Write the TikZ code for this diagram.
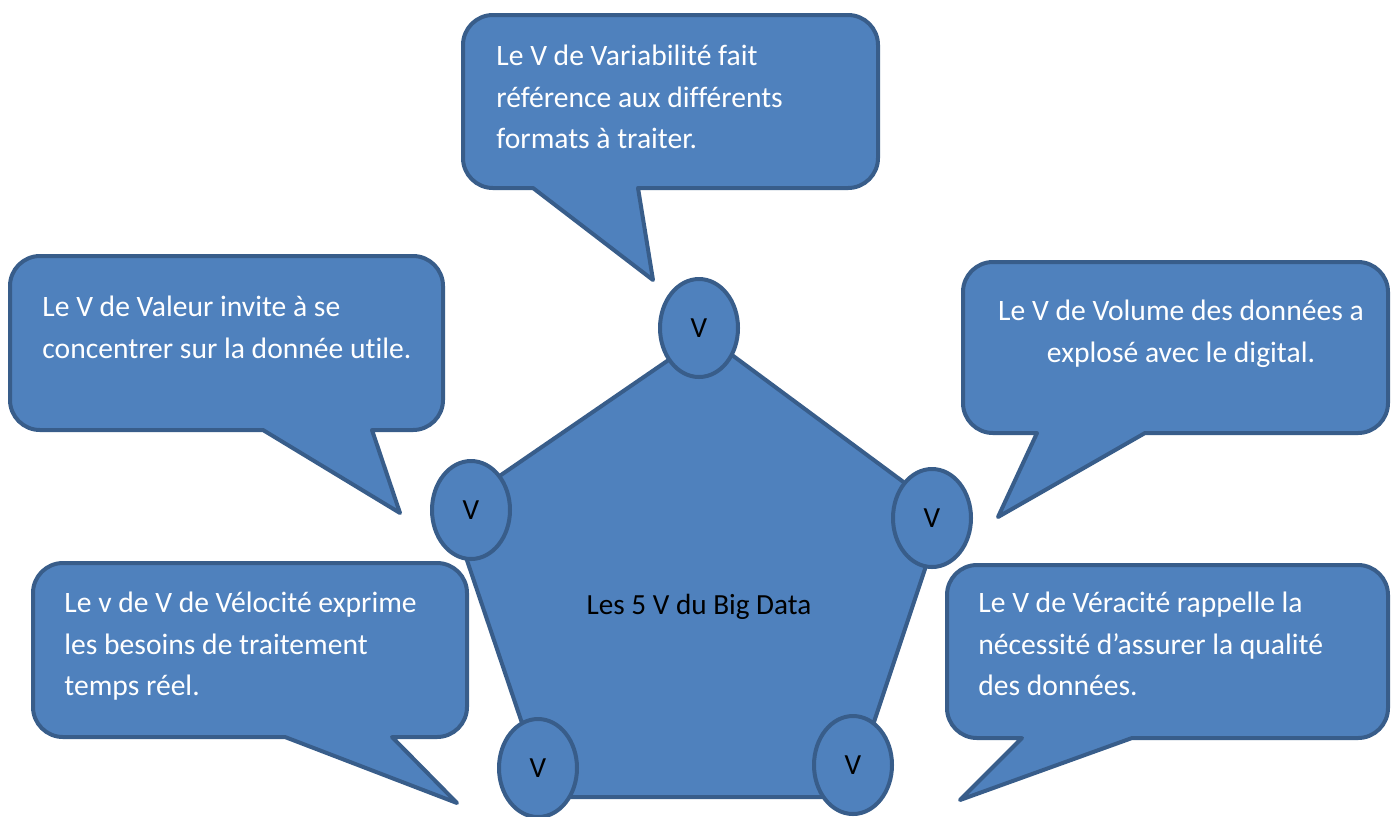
\documentclass[tikz,border=0pt]{standalone}
\usepackage{fontspec}
\usepackage{tikz}
\usetikzlibrary{shapes.geometric}
\setmainfont{Carlito}[Ligatures=NoCommon]
\definecolor{bdfill}{HTML}{4F81BD}
\definecolor{bdline}{HTML}{385D8A}
\tikzset{
  bulle/.style={fill=bdfill,draw=bdline,line width=2pt,rounded corners=15pt,line join=round},
  bulletext/.style={text=white,font=\fontsize{14.8}{20.75}\selectfont,inner sep=0pt},
  vbulle/.style={ellipse,fill=bdfill,draw=bdline,line width=2pt,minimum width=39pt,minimum height=49pt,inner sep=0pt,font=\fontsize{14.6}{16}\selectfont},
}

\begin{document}
\begin{tikzpicture}[x=0.5pt,y=-0.5pt]
\useasboundingbox (0,0) rectangle (1392,816);

% les bulles
\draw[bulle] (670,15) -- (878,15) -- (878,188) [sharp corners] -- (638,188) -- (653,280) -- (533,188) [rounded corners=15pt] -- (463,188) -- (463,15) -- cycle;
\draw[bulle] (200,256) -- (443,256) -- (443,430) [sharp corners] -- (372,430) -- (400,513) -- (263,430) [rounded corners=15pt] -- (10,430) -- (10,256) -- cycle;
\draw[bulle] (1170,262) -- (1388,262) -- (1388,433) [sharp corners] -- (1145,433) -- (998,517) -- (1037,433) [rounded corners=15pt] -- (963,433) -- (963,262) -- cycle;
\draw[bulle] (250,563) -- (467,563) -- (467,737) [sharp corners] -- (392,737) -- (457,803) -- (285,737) [rounded corners=15pt] -- (33,737) -- (33,563) -- cycle;
\draw[bulle] (1170,565) -- (1388,565) -- (1388,738) [sharp corners] -- (1132,738) -- (960,800) -- (1022,738) [rounded corners=15pt] -- (947,738) -- (947,565) -- cycle;

\node[bulletext,anchor=north west,align=left] (variabilite) at (496,45) {Le V de Variabilité fait\\référence aux différents\\formats à traiter.};
\node[bulletext,anchor=north west,align=left] (valeur) at (42,296) {Le V de Valeur invite à se\\concentrer sur la donnée utile.};
\node[bulletext,anchor=north,align=center] (volume) at (1181,300) {Le V de Volume des données a\\explosé avec le digital.};
\node[bulletext,anchor=north west,align=left] (velocite) at (64,592) {Le v de V de Vélocité exprime\\les besoins de traitement\\temps réel.};
\node[bulletext,anchor=north west,align=left] (veracite) at (978,592) {Le V de Véracité rappelle la\\nécessité d’assurer la qualité\\des données.};

% le pentagone
\draw[fill=bdfill,draw=bdline,line width=2pt] (705,335) -- (944,512) -- (849,797) -- (547,797) -- (450,510) -- cycle;
\node[font=\fontsize{14.6}{16}\selectfont] (titre) at (699,607) {Les 5 V du Big Data};

\node[vbulle] (vhaut) at (699,328) {V};
\node[vbulle] (vgauche) at (471,510) {V};
\node[vbulle] (vdroite) at (932,518) {V};
\node[vbulle] (vbasg) at (538,768) {V};
\node[vbulle] (vbasd) at (853,765) {V};
\end{tikzpicture}
\end{document}
